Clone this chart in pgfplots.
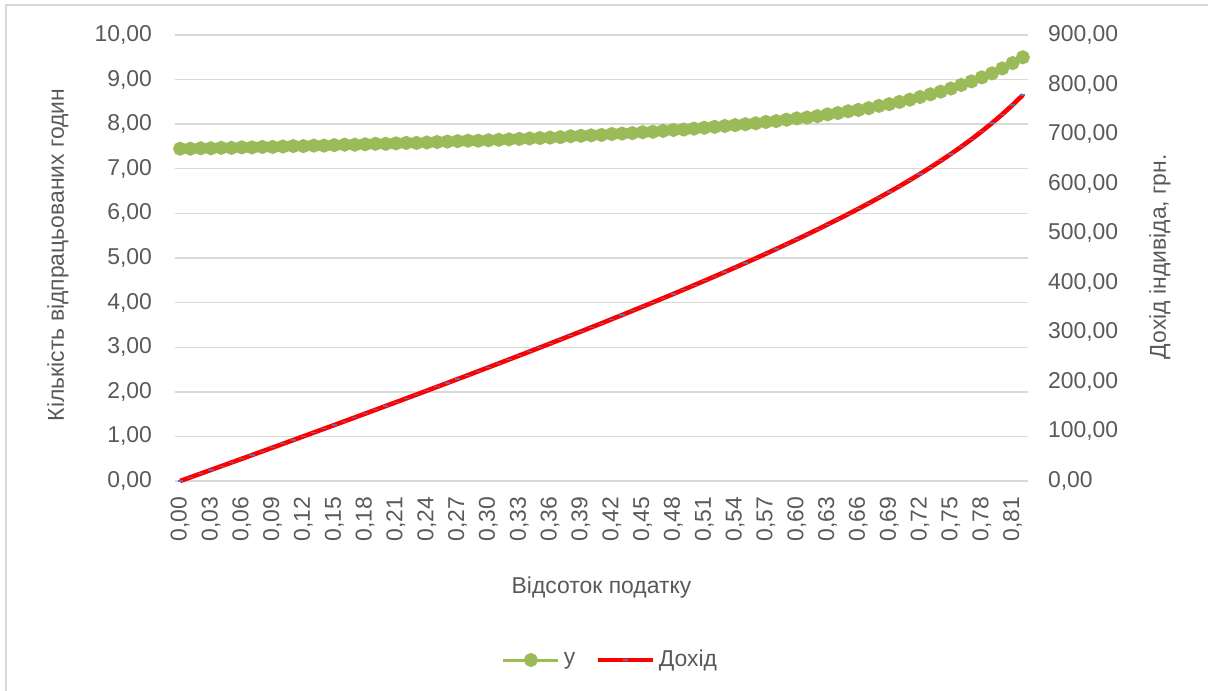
\documentclass[border=0pt]{standalone}
\usepackage{fontspec}
\setmainfont{Liberation Sans}
\usepackage{pgfplots}
\pgfplotsset{compat=1.18}
\usepackage{pgfplotstable}
\definecolor{grn}{HTML}{9BBB59}
\definecolor{txt}{HTML}{595959}
\definecolor{grd}{HTML}{D9D9D9}
\definecolor{dsh}{HTML}{6A6AA8}
\pgfplotstableread{
t y D
0.00 7.45 0.00
0.01 7.45 7.45
0.02 7.46 14.92
0.03 7.46 22.39
0.04 7.47 29.87
0.05 7.47 37.37
0.06 7.48 44.87
0.07 7.48 52.39
0.08 7.49 59.91
0.09 7.49 67.45
0.10 7.50 75.00
0.11 7.51 82.56
0.12 7.51 90.14
0.13 7.52 97.72
0.14 7.52 105.33
0.15 7.53 112.94
0.16 7.54 120.57
0.17 7.54 128.22
0.18 7.55 135.88
0.19 7.56 143.56
0.20 7.56 151.25
0.21 7.57 158.96
0.22 7.58 166.69
0.23 7.58 174.44
0.24 7.59 182.21
0.25 7.60 190.00
0.26 7.61 197.81
0.27 7.62 205.64
0.28 7.63 213.50
0.29 7.63 221.38
0.30 7.64 229.29
0.31 7.65 237.22
0.32 7.66 245.18
0.33 7.67 253.16
0.34 7.68 261.18
0.35 7.69 269.23
0.36 7.70 277.31
0.37 7.71 285.43
0.38 7.73 293.58
0.39 7.74 301.77
0.40 7.75 310.00
0.41 7.76 318.27
0.42 7.78 326.59
0.43 7.79 334.95
0.44 7.80 343.36
0.45 7.82 351.82
0.46 7.83 360.33
0.47 7.85 368.91
0.48 7.87 377.54
0.49 7.88 386.24
0.50 7.90 395.00
0.51 7.92 403.84
0.52 7.94 412.75
0.53 7.96 421.74
0.54 7.98 430.83
0.55 8.00 440.00
0.56 8.02 449.27
0.57 8.05 458.65
0.58 8.07 468.14
0.59 8.10 477.76
0.60 8.13 487.50
0.61 8.15 497.38
0.62 8.18 507.42
0.63 8.22 517.62
0.64 8.25 528.00
0.65 8.29 538.57
0.66 8.32 549.35
0.67 8.36 560.36
0.68 8.41 571.63
0.69 8.45 583.16
0.70 8.50 595.00
0.71 8.55 607.17
0.72 8.61 619.71
0.73 8.67 632.67
0.74 8.73 646.08
0.75 8.80 660.00
0.76 8.88 674.50
0.77 8.96 689.65
0.78 9.05 705.55
0.79 9.14 722.29
0.80 9.25 740.00
0.81 9.37 758.84
0.82 9.50 779.00
}\data
\begin{document}
\begin{tikzpicture}[font=\fontsize{11.5}{13.8}\selectfont]
\useasboundingbox (-87.5bp,-105bp) rectangle (516.5bp,240.5bp);
\draw[grd, line width=0.7bp] (-84.5bp,-105bp) -- (-84.5bp,238bp) -- (516.5bp,238bp);
\pgfplotsset{
  common/.style={
    at={(0,0)}, anchor=south west,
    scale only axis, width=426.5bp, height=223bp,
    xmin=-0.005, xmax=0.825,
    clip=false,
    axis line style={draw=none},
    major tick length=0pt,
    tick label style={text=txt},
    label style={text=txt},
    /pgf/number format/assume math mode=true,
  },
  legend image code/.code={\draw[mark repeat=2,mark phase=2,#1] plot coordinates {(0bp,0bp) (13.75bp,0bp) (27.5bp,0bp)};},
}
\begin{axis}[common,
  axis y line*=left, axis x line*=bottom,
  ymin=0, ymax=10, ytick={0,1,...,10},
  ymajorgrids, grid style={grd, line width=0.7bp},
  xtick={0,0.03,0.06,0.09,0.12,0.15,0.18,0.21,0.24,0.27,0.30,0.33,0.36,0.39,0.42,0.45,0.48,0.51,0.54,0.57,0.60,0.63,0.66,0.69,0.72,0.75,0.78,0.81},
  xticklabel style={rotate=90, anchor=east, xshift=-4.5bp, /pgf/number format/.cd, fixed, fixed zerofill, precision=2, use comma},
  yticklabel style={xshift=-8bp, /pgf/number format/.cd, fixed, fixed zerofill, precision=2, use comma},
  xlabel={Відсоток податку},
  xlabel style={at={(axis description cs:0.5,-0.24)}, anchor=center},
  ylabel={Кількість відпрацьованих годин},
  ylabel style={at={(axis description cs:-0.1372,0.507)}, anchor=center},
]
\addplot[grn, line width=1.5bp, mark=*, mark size=2.75bp, mark options={fill=grn, draw=grn}] table[x=t, y=y] {\data};
\end{axis}
\begin{axis}[common,
  axis y line*=right, axis x line=none,
  ymin=0, ymax=900, ytick={0,100,...,900},
  yticklabel style={xshift=6.5bp, /pgf/number format/.cd, fixed, fixed zerofill, precision=2, use comma},
  ylabel={Дохід індивіда, грн.},
  ylabel style={at={(axis description cs:1.1547,0.503)}, anchor=center},
  legend style={draw=none, fill=none, legend columns=2, at={(axis description cs:0.5,0)}, anchor=center, yshift=-89.5bp, xshift=5bp, font=\fontsize{11.5}{13.8}\selectfont, text=txt, /tikz/every even column/.append style={column sep=8bp}},
]
\addlegendimage{grn, line width=1.5bp, mark=*, mark size=2.75bp, mark options={fill=grn, draw=grn}}
\addlegendentry{y}
\addplot[red, line width=2.3bp, mark=-, mark size=1.3bp, mark options={dsh, line width=0.6bp}] table[x=t, y=D] {\data};
\addlegendentry{Дохід}
\end{axis}
\end{tikzpicture}
\end{document}
